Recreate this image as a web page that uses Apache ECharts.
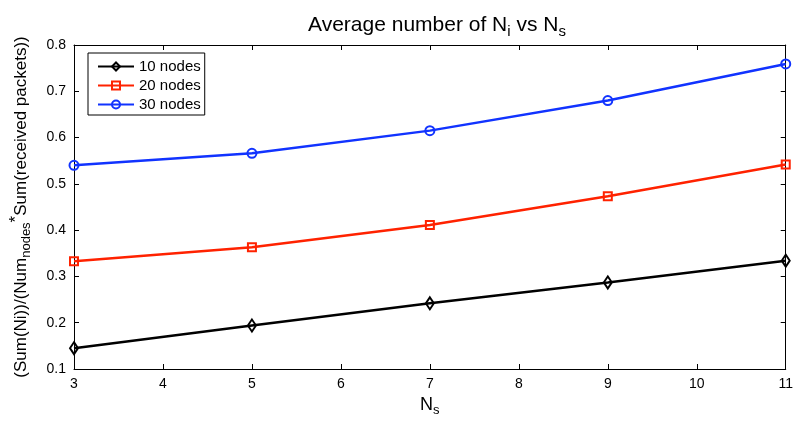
<!DOCTYPE html>
<html>
<head>
<meta charset="utf-8">
<script src="https://cdn.jsdelivr.net/npm/echarts@6/dist/echarts.min.js"></script>
<style>
  html, body {margin: 0; padding: 0; background: #fff;}
  #main {width: 796px; height: 422px;}
</style>
</head>
<body>
<div id="main"></div>
<script>
const xValues = [3, 5, 7, 9, 11];
const nodes10 = [0.145, 0.194, 0.242, 0.287, 0.334];
const nodes20 = [0.333, 0.363, 0.411, 0.473, 0.542];
const nodes30 = [0.540, 0.566, 0.615, 0.680, 0.759];
const seriesNames = ['10 nodes', '20 nodes', '30 nodes'];

const font = 'Liberation Sans, Arial, sans-serif';
const pair = arr => xValues.map((x, i) => [x, arr[i]]);

const chart = echarts.init(document.getElementById('main'));

const tickSide = (showLabel) => ({
  axisLine: {show: true, lineStyle: {color: '#000', width: 1}},
  axisTick: {show: true, inside: true, length: 5, lineStyle: {color: '#000'}},
  axisLabel: {show: showLabel, color: '#000', fontSize: 14, fontFamily: font, margin: 8},
  splitLine: {show: false}
});

const mk = (name, data, color, symbol, size) => ({
  name,
  type: 'line',
  data: pair(data),
  symbol,
  symbolSize: size,
  showAllSymbol: true,
  lineStyle: {color, width: 2.5},
  itemStyle: {color: 'rgba(255,255,255,0)', borderColor: color, borderWidth: 2},
  emphasis: {disabled: true},
  z: 3
});

chart.setOption({
  animation: false,
  backgroundColor: '#fff',
  title: {
    text: 'Average number of N{sub|i} vs N{sub|s}',
    left: 432,
    textAlign: 'center',
    top: 6,
    textStyle: {
      fontSize: 21, fontWeight: 'normal', color: '#000', fontFamily: font,
      rich: {sub: {fontSize: 15, color: '#000', fontFamily: font, padding: [13, 0, 0, 0]}}
    }
  },
  grid: {left: 73, right: 7, top: 45, bottom: 51},
  legend: {
    orient: 'vertical',
    left: 88,
    top: 53,
    data: seriesNames,
    itemWidth: 36,
    itemHeight: 10,
    itemGap: 4,
    padding: [6, 4, 3, 9],
    borderColor: '#000',
    borderWidth: 1,
    backgroundColor: '#fff',
    textStyle: {color: '#000', fontSize: 15, fontFamily: font}
  },
  xAxis: [
    Object.assign({
      type: 'value', min: 3, max: 11, interval: 1, position: 'bottom',
      name: 'N{sub|s}', nameLocation: 'middle', nameGap: 24,
      nameTextStyle: {
        fontSize: 18, color: '#000', fontFamily: font,
        rich: {sub: {fontSize: 13, color: '#000', fontFamily: font, padding: [11, 0, 0, 0]}}
      }
    }, tickSide(true)),
    Object.assign({type: 'value', min: 3, max: 11, interval: 1, position: 'top'}, tickSide(false))
  ],
  yAxis: [
    Object.assign({
      type: 'value', min: 0.1, max: 0.8, interval: 0.1, position: 'left',
      name: '(Sum(Ni))/(Num{sub|nodes}{sup|*}Sum(received packets))',
      nameLocation: 'middle', nameGap: 40, nameRotate: 90,
      nameTextStyle: {
        fontSize: 17, color: '#000', fontFamily: font,
        rich: {
          sub: {fontSize: 13, color: '#000', fontFamily: font, padding: [11, 0, 0, 0]},
          sup: {fontSize: 17, color: '#000', fontFamily: font, padding: [0, 0, 9, 0]}
        }
      }
    }, tickSide(true)),
    Object.assign({type: 'value', min: 0.1, max: 0.8, interval: 0.1, position: 'right'}, tickSide(false))
  ],
  series: [
    mk(seriesNames[0], nodes10, '#000000', 'diamond', [8, 12]),
    mk(seriesNames[1], nodes20, '#ff2200', 'rect', 8),
    mk(seriesNames[2], nodes30, '#1133ff', 'circle', 9)
  ]
});
</script>
</body>
</html>
